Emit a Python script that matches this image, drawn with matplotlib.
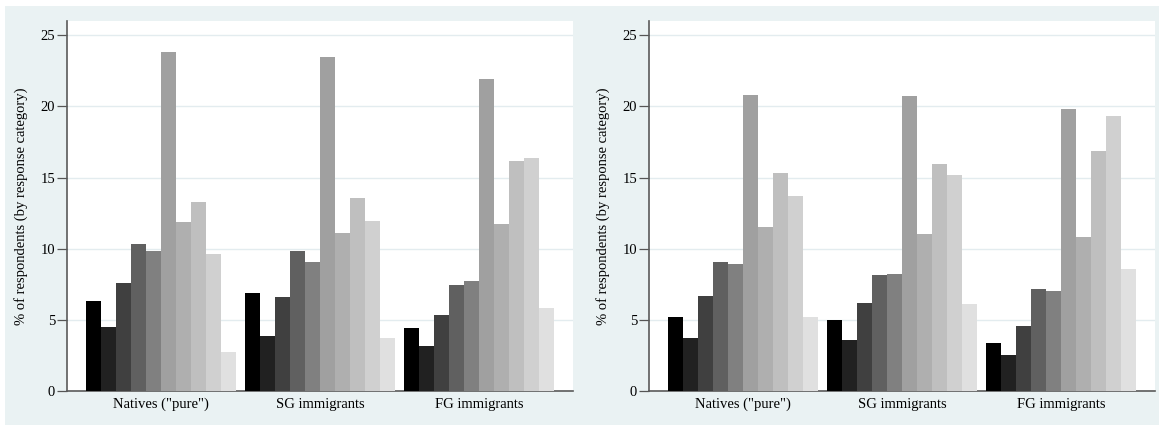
import numpy as np
import matplotlib.pyplot as plt
from matplotlib.patches import Rectangle

groups = ['Natives ("pure")', "SG immigrants", "FG immigrants"]

# left panel, 10 response categories per group
left_natives = [6.35, 4.5, 7.6, 10.3, 9.85, 23.85, 11.85, 13.3, 9.65, 2.75]
left_sg = [6.9, 3.9, 6.6, 9.85, 9.05, 23.45, 11.1, 13.55, 11.95, 3.7]
left_fg = [4.4, 3.15, 5.35, 7.45, 7.7, 21.95, 11.75, 16.15, 16.35, 5.8]

# right panel
right_natives = [5.2, 3.75, 6.7, 9.05, 8.95, 20.8, 11.55, 15.3, 13.7, 5.2]
right_sg = [5.0, 3.6, 6.2, 8.15, 8.25, 20.75, 11.0, 15.95, 15.2, 6.1]
right_fg = [3.35, 2.5, 4.6, 7.15, 7.05, 19.85, 10.8, 16.9, 19.3, 8.6]

yticks = [0, 5, 10, 15, 20, 25]

bar_colors = ["#000000", "#212121", "#404040", "#606060", "#808080",
              "#a0a0a0", "#afafaf", "#bfbfbf", "#d0d0d0", "#e0e0e0"]

plt.rcParams["font.family"] = ["Liberation Serif", "DejaVu Serif"]

BG = "#eaf2f3"
W, H = 1159, 425
fig = plt.figure(figsize=(W / 100, H / 100), dpi=100)
fig.patch.set_facecolor("white")
fig.patches.append(Rectangle((5 / W, 0), 1 - 5 / W, 1 - 6 / H,
                             transform=fig.transFigure, facecolor=BG,
                             edgecolor="none", zorder=-10))

group_gap = 0.64
outer = 1.27
n_cat = 10


def draw_panel(ax, data):
    for g, vals in enumerate(data):
        start = g * (n_cat + group_gap)
        xs = start + np.arange(n_cat)
        ax.bar(xs, vals, width=1.0, align="edge", color=bar_colors,
               edgecolor="none", zorder=3)
    total = len(data) * n_cat + (len(data) - 1) * group_gap
    ax.set_xlim(-outer, total + outer)
    ax.set_ylim(0, 26)
    centers = [g * (n_cat + group_gap) + n_cat / 2 for g in range(len(data))]
    ax.set_xticks(centers)
    ax.set_xticklabels(groups, fontsize=10.5)
    ax.tick_params(axis="x", length=0, pad=5)
    ax.set_yticks(yticks)
    ax.tick_params(axis="y", length=7, width=0.9, color="#555555",
                   labelsize=10.5, pad=1.5)
    ax.grid(axis="y", color="#e3ecef", linewidth=1.0, zorder=0)
    for s in ("top", "right"):
        ax.spines[s].set_visible(False)
    for s in ("left", "bottom"):
        ax.spines[s].set_color("#5a5a5a")
        ax.spines[s].set_linewidth(1.2)
    ax.set_ylabel("% of respondents (by response category)", fontsize=10.5)
    ax.yaxis.set_label_coords(-0.077, 0.5)
    ax.set_facecolor("white")


ax1 = fig.add_axes([67 / W, (H - 391) / H, 506 / W, 370 / H])
draw_panel(ax1, [left_natives, left_sg, left_fg])
ax2 = fig.add_axes([649 / W, (H - 391) / H, 506 / W, 370 / H])
draw_panel(ax2, [right_natives, right_sg, right_fg])

fig.savefig("out.png", dpi=100)
